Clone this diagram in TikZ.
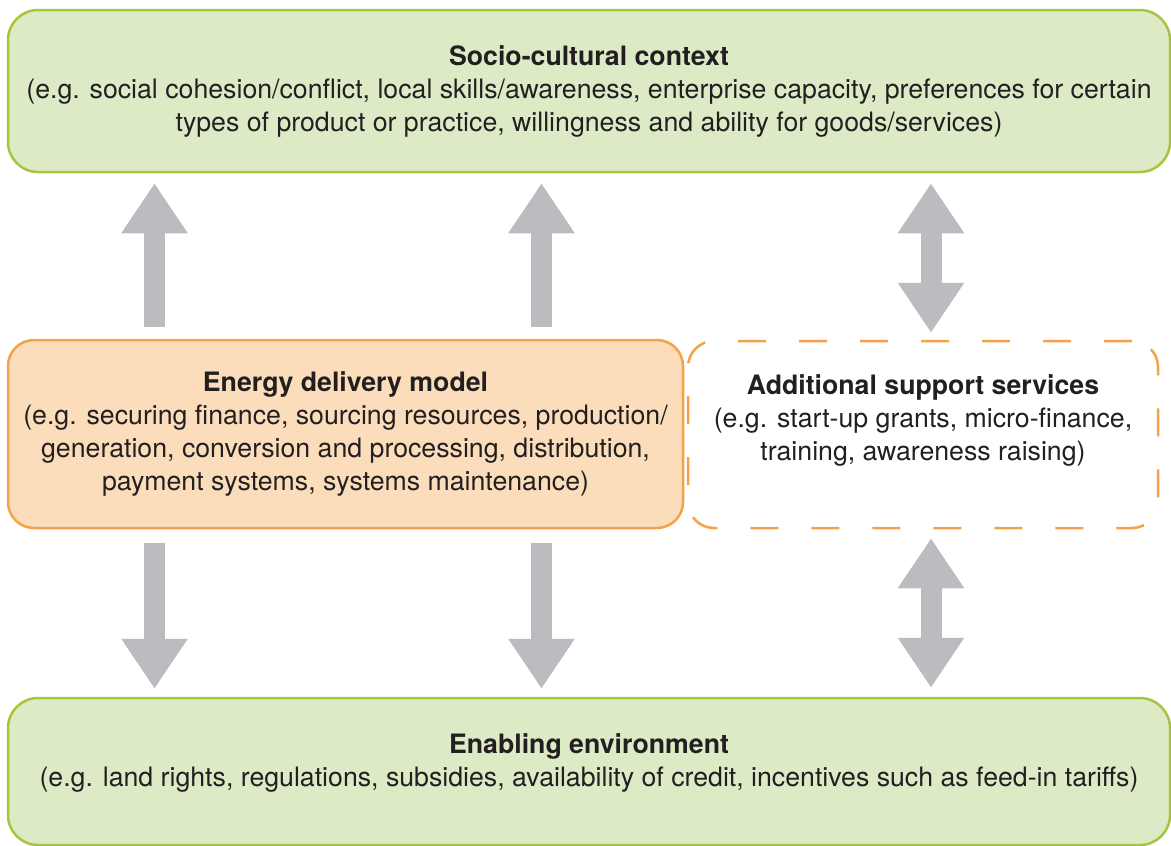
\documentclass[tikz,border=0pt]{standalone}
\usepackage{fontspec}
\setmainfont{TeX Gyre Heros}
\usetikzlibrary{arrows.meta}
\definecolor{greenfill}{HTML}{DCEAC6}
\definecolor{greenline}{HTML}{A9C43C}
\definecolor{orangefill}{HTML}{FBDDBB}
\definecolor{orangeline}{HTML}{F4A24A}
\definecolor{arrowgray}{HTML}{BBBCC0}
\definecolor{textdark}{HTML}{231F20}
\begin{document}
\begin{tikzpicture}[x=1pt,y=-1pt, line join=round, text=textdark,
    font=\fontsize{26.7}{33}\selectfont,
    box/.style={rectangle, rounded corners=30pt, line width=2.5pt, align=center, inner sep=0pt},
    greenbox/.style={box, draw=greenline, fill=greenfill},
    orangebox/.style={box, draw=orangeline, fill=orangefill, rounded corners=26pt},
    dashbox/.style={box, draw=orangeline, dash pattern=on 28pt off 33pt, rounded corners=26pt},
    bigarrow/.style={draw=arrowgray, line width=21pt, -{Triangle[width=63pt,length=50pt]}},
    twoarrow/.style={bigarrow, {Triangle[width=63pt,length=50pt]}-{Triangle[width=63pt,length=50pt]}}]
    \useasboundingbox (0,0) rectangle (1171,846);
    % boxes
    \node[greenbox, minimum width=1162pt, minimum height=162pt] (ctx) at (589,91)
        {\textbf{Socio-cultural context}\\
         (e.g. social cohesion/conflict, local skills/awareness, enterprise capacity, preferences for certain\\
         types of product or practice, willingness and ability for goods/services)};
    \node[orangebox, minimum width=675pt, minimum height=188pt] (edm) at (345.5,434)
        {\textbf{Energy delivery model}\\
         (e.g. securing finance, sourcing resources, production/\\
         generation, conversion and processing, distribution,\\
         payment systems, systems maintenance)};
    \node[dashbox, minimum width=470pt, minimum height=187pt] (ass) at (923,434.5)
        {\textbf{Additional support services}\\
         (e.g. start-up grants, micro-finance,\\
         training, awareness raising)\\ \mbox{}};
    \node[greenbox, minimum width=1162pt, minimum height=147pt] (env) at (589,771.5)
        {\textbf{Enabling environment}\\
         (e.g. land rights, regulations, subsidies, availability of credit, incentives such as feed-in tariffs)\\[-10pt]\mbox{}};
    % arrows
    \foreach \dx [count=\i] in {-191,196}{
        \coordinate (u\i) at ([xshift=\dx pt]edm.north);
        \coordinate (d\i) at ([xshift=\dx pt]edm.south);
        \draw[bigarrow, shorten <=12pt, shorten >=10pt] (u\i) -- (u\i |- ctx.south);
        \draw[bigarrow, shorten <=14pt, shorten >=8pt] (d\i) -- (d\i |- env.north);
    }
    \coordinate (au) at ([xshift=8pt]ass.north);
    \coordinate (ad) at ([xshift=8pt]ass.south);
    \draw[twoarrow, shorten <=7pt, shorten >=10pt] (au) -- (au |- ctx.south);
    \draw[twoarrow, shorten <=9pt, shorten >=9pt] (ad) -- (ad |- env.north);
\end{tikzpicture}
\end{document}
